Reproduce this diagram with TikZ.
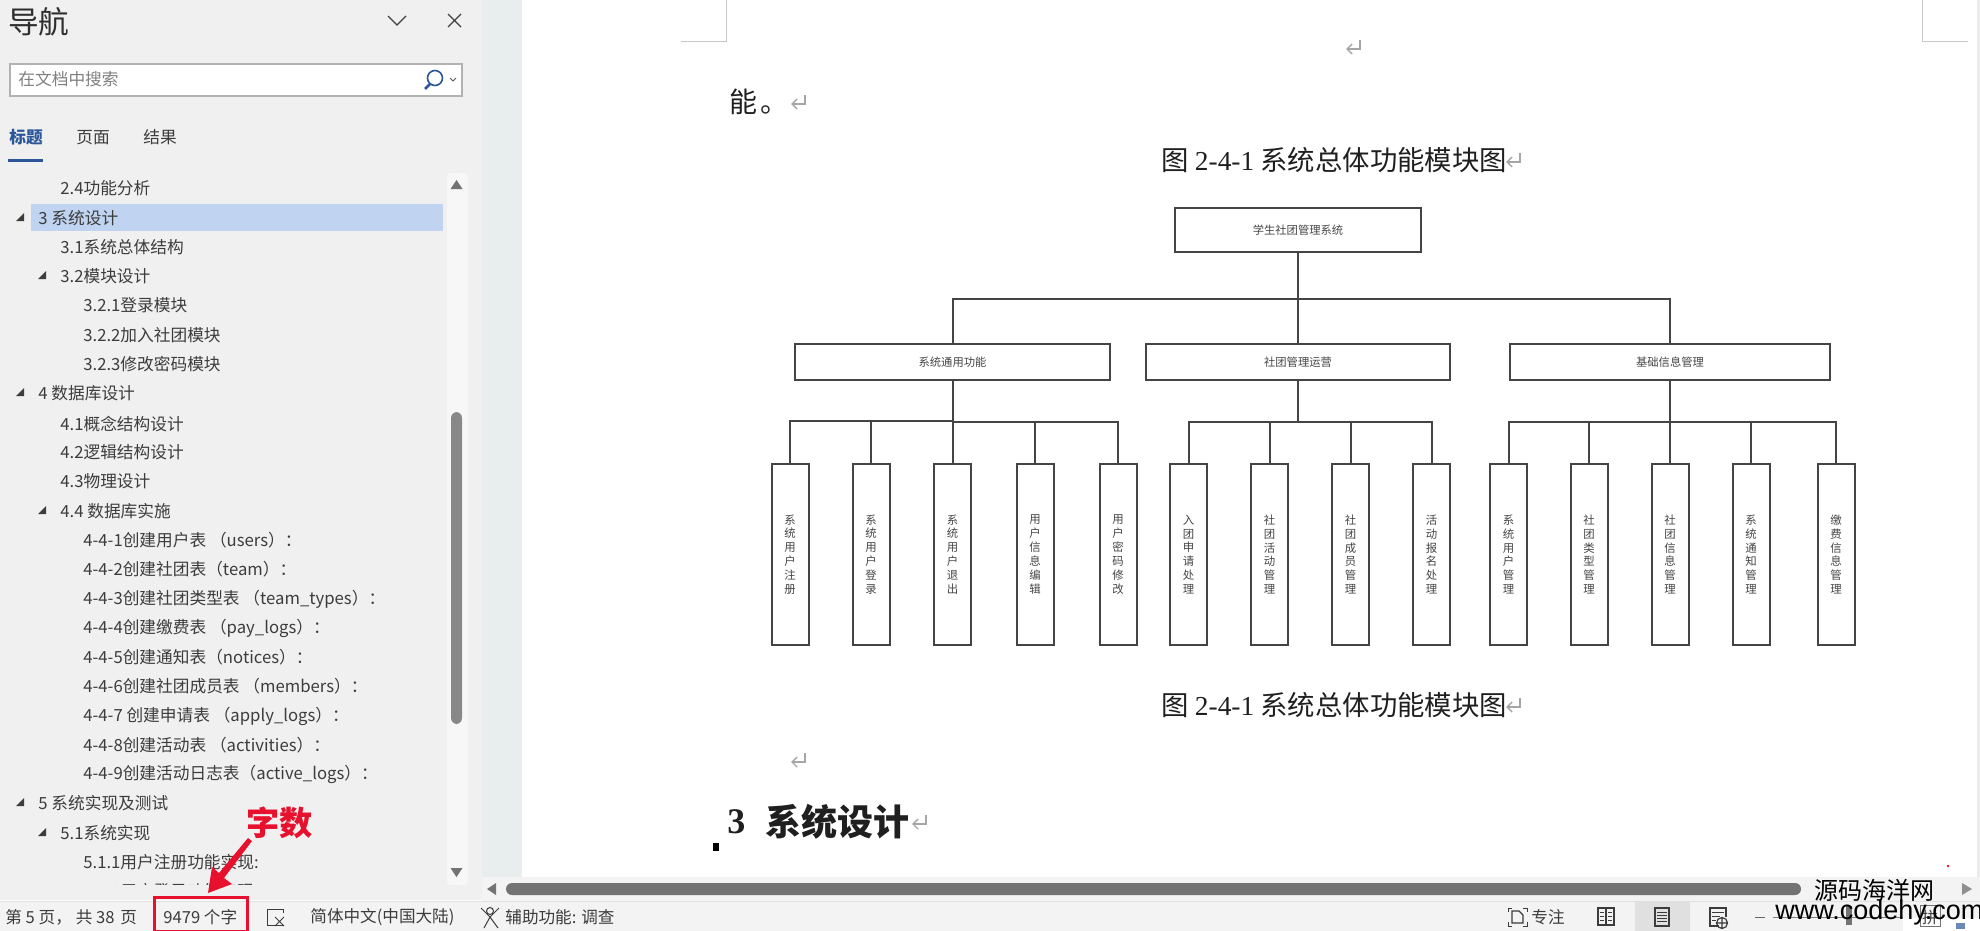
\documentclass[tikz,border=0pt]{standalone}
\usepackage{fontspec}
\setmainfont{Noto Sans CJK SC}
\newfontfamily\latinser{Liberation Serif}
\definecolor{panelbg}{HTML}{F0F0F0}
\definecolor{gutterbg}{HTML}{E8EEEE}
\definecolor{barbg}{HTML}{F3F3F3}
\definecolor{thumbc}{HTML}{737373}
\definecolor{hlrow}{HTML}{C0D3F0}
\definecolor{blueui}{HTML}{2B579A}
\definecolor{uitext}{HTML}{3C3C3C}
\definecolor{linec}{HTML}{444444}
\definecolor{leaftext}{HTML}{454545}
\definecolor{redmark}{HTML}{E8112D}
\definecolor{retc}{HTML}{A6A6A6}
\newcommand{\pxfont}[2]{\fontsize{#1}{#2}\selectfont}
\newcommand{\retmark}[2]{\draw[retc,line width=.7pt] ($(#1,#2)+(6,-7)$) -- ($(#1,#2)+(6,2)$) -- ($(#1,#2)+(-7,2)$); \draw[retc,line width=.7pt] ($(#1,#2)+(-2,-3)$) -- ($(#1,#2)+(-7,2)$) -- ($(#1,#2)+(-2,7)$);}
\newcommand{\tri}[2]{\fill[uitext] (#1,#2) ++(8,-5) -- ++(0,8) -- ++(-8,0) -- cycle;}
\usetikzlibrary{calc}
\tikzset{
  rowtxt/.style={anchor=west,inner sep=0pt,yshift=-.3pt,text=uitext,font=\pxfont{8.35}{10}},
  bartxt/.style={anchor=west,inner sep=0pt,text=uitext,font=\pxfont{8.3}{10}},
  doctxt/.style={anchor=west,inner sep=0pt,text=black!88,font=\pxfont{13.7}{16}},
  rootbox/.style={draw=linec,line width=1pt,fill=white,minimum width=123pt,minimum height=21.7pt,inner sep=0pt,text=leaftext,font=\pxfont{5.65}{7}},
  midbox/.style={draw=linec,line width=1pt,fill=white,minimum height=17.8pt,inner sep=0pt,text=leaftext,text depth=0pt,font=\pxfont{5.65}{7}},
  leafbox/.style={draw=linec,line width=1pt,fill=white,minimum width=18.5pt,minimum height=90.5pt,inner sep=0pt,text=leaftext,align=center,font=\pxfont{5.7}{6.95}},
  conn/.style={draw=linec,line width=1pt},
}
\begin{document}
\begin{tikzpicture}[x=0.5pt,y=-0.5pt]
\useasboundingbox (0,0) rectangle (1980,931);
% backgrounds
\fill[white] (0,0) rectangle (1980,931);
\fill[panelbg] (0,0) rectangle (482,900);
\fill[gutterbg] (482,0) rectangle (522,880);
\fill[black!8] (1977,0) rectangle (1980,880);
\fill[barbg] (482,877) rectangle (1980,901);
\fill[barbg] (0,901) rectangle (1980,931);
\draw[black!12,line width=.4pt] (0,901) -- (1980,901);
% page corner marks
\draw[black!22,line width=.5pt] (681,42) -- (726,42) -- (726,0);
\draw[black!22,line width=.5pt] (1968,42) -- (1922,42) -- (1922,0);
\retmark{1354}{47}
% doc text
\node[doctxt,font=\pxfont{14}{16}] (neng) at (729,102) {能\hspace{1.5pt}。};
\retmark{799}{102}
\node[doctxt] (capa) at (1161,160) {图 {\latinser 2-4-1} 系统总体功能模块图};
\retmark{1514}{160}
\node[doctxt] (capb) at (1161,705) {图 {\latinser 2-4-1} 系统总体功能模块图};
\retmark{1514}{705}
\retmark{799}{760}
\node[doctxt,font=\pxfont{18}{20}\bfseries] (hnum) at (727,822) {\latinser 3};
\node[doctxt,font=\pxfont{18}{20}\bfseries] (hsec) at (765,822) {系统设计};
\retmark{920}{822}
\fill[black] (713,843) rectangle (719,851);
% diagram
\node[rootbox] (root) at (1298,230) {学生社团管理系统};
\node[midbox,minimum width=157.5pt] (m1) at (952.5,362) {系统通用功能};
\node[midbox,minimum width=152pt] (m2) at (1298,362) {社团管理运营};
\node[midbox,minimum width=160pt] (m3) at (1670,362) {基础信息管理};
\coordinate (busa) at (1298,298.5);
\coordinate (busb) at (952.5,422);
\coordinate (busbu) at (952.5,421);
\coordinate (busc) at (1298,422);
\coordinate (busd) at (1670,422);
\foreach \nm/\cx/\txt in {
 la/790/系\\统\\用\\户\\注\\册, lb/871/系\\统\\用\\户\\登\\录, lc/952.5/系\\统\\用\\户\\退\\出,
 ld/1035/用\\户\\信\\息\\编\\辑, le/1118/用\\户\\密\\码\\修\\改,
 lf/1188.5/入\\团\\申\\请\\处\\理, lg/1269.5/社\\团\\活\\动\\管\\理, lh/1350.5/社\\团\\成\\员\\管\\理, li/1431.5/活\\动\\报\\名\\处\\理,
 lj/1508.5/系\\统\\用\\户\\管\\理, lk/1589/社\\团\\类\\型\\管\\理, ll/1670/社\\团\\信\\息\\管\\理, lm/1751/系\\统\\通\\知\\管\\理, ln/1836/缴\\费\\信\\息\\管\\理}
 {\node[leafbox] (\nm) at (\cx,554.5) {\txt};}
\draw[conn] (root) -- (m2);
\draw[conn] (m1.north) |- (busa);
\draw[conn] (m3.north) |- (busa);
\draw[conn] (m1.south) -- (lc.north);
\draw[conn] (m2.south) -- (busc);
\draw[conn] (m3.south) -- (ll.north);
\foreach \l in {la,lb} {\draw[conn] (\l.north) |- (busbu);}
\foreach \l in {le,ld} {\draw[conn] (\l.north) |- (busb);}
\foreach \l in {lf,lg,lh,li} {\draw[conn] (\l.north) |- (busc);}
\foreach \l in {lj,lk,lm,ln} {\draw[conn] (\l.north) |- (busd);}
% nav pane header
\node[anchor=west,inner sep=0pt,text=black!82,font=\pxfont{15.3}{18}] (navt) at (8,22) {导航};
\draw[black!75,line width=.6pt] (388,16) -- (397,25) -- (406,16);
\draw[black!75,line width=.6pt] (448,14) -- (461,27) (461,14) -- (448,27);
\node[draw=black!30,line width=.8pt,fill=white,minimum width=226pt,minimum height=16pt,inner sep=0pt,anchor=west] (sbox) at (9,80) {};
\node[rowtxt,text=black!50] (stxt) at (18,79) {在文档中搜索};
\draw[blueui,line width=.8pt] (435,78) circle (7.5);
\draw[blueui,line width=1.3pt] (430,84) -- (425,89);
\draw[black!65,line width=.5pt] (450,78) -- (453,81) -- (456,78);
\node[rowtxt,text=blueui,font=\pxfont{8.35}{10}\bfseries] (t1) at (9,137) {标题};
\node[rowtxt] (t2) at (76,137) {页面};
\node[rowtxt] (t3) at (143,137) {结果};
\fill[blueui] (8,159) rectangle (43,161.5);
% scrollbar of nav pane
\fill[black!3,rounded corners=2pt] (447,173) rectangle (468,885);
\fill[thumbc!85,rounded corners=3pt] (451,412) rectangle (462,724);
\fill[thumbc] (456.5,180) -- (462.5,189) -- (450.5,189) -- cycle;
\fill[thumbc] (456.5,877) -- (462.5,868) -- (450.5,868) -- cycle;
% rows
\fill[hlrow] (31,204) rectangle (443,231);
\tri{16}{218}\tri{38}{276}\tri{16}{393}\tri{38}{511}\tri{16}{803}\tri{38}{833}
\node[rowtxt] (r01) at (60,188) {2.4功能分析};
\node[rowtxt] (r02) at (38,218) {3 系统设计};
\node[rowtxt] (r03) at (60,247) {3.1系统总体结构};
\node[rowtxt] (r04) at (60,276) {3.2模块设计};
\node[rowtxt] (r05) at (83,305) {3.2.1登录模块};
\node[rowtxt] (r06) at (83,335) {3.2.2加入社团模块};
\node[rowtxt] (r07) at (83,364) {3.2.3修改密码模块};
\node[rowtxt] (r08) at (38,393) {4 数据库设计};
\node[rowtxt] (r09) at (60,423) {4.1概念结构设计};
\node[rowtxt] (r10) at (60,452) {4.2逻辑结构设计};
\node[rowtxt] (r11) at (60,481) {4.3物理设计};
\node[rowtxt] (r12) at (60,511) {4.4 数据库实施};
\node[rowtxt] (r13) at (83,540) {4-4-1创建用户表 （users）：};
\node[rowtxt] (r14) at (83,569) {4-4-2创建社团表（team）：};
\node[rowtxt] (r15) at (83,599) {4-4-3创建社团类型表 （team\_types）：};
\node[rowtxt] (r16) at (83,628) {4-4-4创建缴费表 （pay\_logs）：};
\node[rowtxt] (r17) at (83,657) {4-4-5创建通知表（notices）：};
\node[rowtxt] (r18) at (83,686) {4-4-6创建社团成员表 （members）：};
\node[rowtxt] (r19) at (83,716) {4-4-7 创建申请表 （apply\_logs）：};
\node[rowtxt] (r20) at (83,745) {4-4-8创建活动表 （activities）：};
\node[rowtxt] (r21) at (83,774) {4-4-9创建活动日志表（active\_logs）：};
\node[rowtxt] (r22) at (38,803) {5 系统实现及测试};
\node[rowtxt] (r23) at (60,833) {5.1系统实现};
\node[rowtxt] (r24) at (83,862) {5.1.1用户注册功能实现:};
\begin{scope}
\clip (0,870) rectangle (440,884);
\node[rowtxt] (r25) at (83,891) {5.1.2用户登录功能实现};
\end{scope}
% horizontal scrollbar
\fill[thumbc,rounded corners=3pt] (506,883) rectangle (1801,895);
\fill[thumbc] (487,889) -- (496,883) -- (496,895) -- cycle;
\fill[thumbc!80] (1972,889) -- (1962,883) -- (1962,895) -- cycle;
% status bar
\node[bartxt] (s1) at (5,917) {第 5 页，\hspace{2pt}共 38\hspace{1pt} 页};
\node[bartxt] (s2) at (163,917) {9479 个字};
\draw[redmark,line width=1.5pt] (154,897) rectangle (247,931);
\draw[uitext,line width=.5pt] (283,925) -- (267,925) -- (267,909) -- (283,909) (283,909) -- (283,913);
\draw[uitext,line width=.5pt] (275,917) -- (284,926) (284,917) -- (275,926);
\node[bartxt] (s3) at (310,917) {简体中文(中国大陆)};
\draw[uitext,line width=.5pt] (490,911) circle (3.5);
\draw[uitext,line width=.5pt] (481,908) -- (490,917) -- (499,908) (490,917) -- (484,928) (490,917) -- (498,928);
\node[bartxt] (s4) at (505,917) {辅助功能: 调查};
% right status
\draw[uitext,line width=.5pt] (1512,908) -- (1508,908) -- (1508,912) (1508,922) -- (1508,926) -- (1512,926) (1523,926) -- (1527,926) -- (1527,922) (1527,912) -- (1527,908) -- (1523,908);
\draw[uitext,line width=.6pt] (1512,911) -- (1519,911) -- (1523,915) -- (1523,923) -- (1512,923) -- cycle;
\node[bartxt] (s5) at (1531,917) {专注};
\draw[uitext,line width=.7pt] (1598,908) rectangle (1614,925) (1606,908) -- (1606,925);
\foreach \yy in {912,916,920} {\draw[uitext,line width=.5pt] (1600,\yy) -- (1604,\yy) (1608,\yy) -- (1612,\yy);}
\fill[black!12] (1635,902) rectangle (1690,931);
\draw[uitext,line width=.7pt] (1655,908) rectangle (1669,926);
\foreach \yy in {912,915,918,921} {\draw[uitext,line width=.5pt] (1657,\yy) -- (1667,\yy);}
\draw[uitext,line width=.6pt] (1719,926) -- (1710,926) -- (1710,908) -- (1726,908) -- (1726,917);
\draw[uitext,line width=.5pt] (1712,912) -- (1724,912) (1712,916) -- (1720,916) (1712,920) -- (1716,920);
\draw[uitext,line width=.6pt] (1722,923) circle (5.5) (1716.5,923) -- (1727.5,923) (1722,917.5) -- (1722,928.5);
\draw[black!60,line width=.5pt] (1755,917) -- (1765,917);
\draw[black!50,line width=.5pt] (1773,917) -- (1903,917);
\fill[thumbc] (1846,906) rectangle (1852,925);
\fill[white] (1903,918) rectangle (1980,931);
\draw[black!55,line width=.5pt] (1920,905) rectangle (1940,926);
\node[inner sep=0pt,text=uitext,font=\pxfont{8}{10}] (ime) at (1930,917) {拼};
\fill[blueui!70] (1956,923) rectangle (1965,929);
\fill[redmark] (1948,866) circle (1.4);
% red annotation
\node[anchor=west,inner sep=0pt,text=redmark,font=\pxfont{16.6}{18}\bfseries] (zishu) at (246,823) {字数};
\coordinate (arrowtail) at (248,838);
\fill[redmark] (arrowtail) -- (252,841) -- (224,878) -- (232,884) -- (208,893) -- (212,867) -- (219,873) -- cycle;
% watermark
\node[anchor=west,inner sep=0pt,text=black,font=\pxfont{12}{14}] (wm1) at (1814,890) {源码海洋网};
\node[anchor=west,inner sep=0pt,text=black,font={\fontspec{Liberation Sans}\pxfont{13.5}{16}}] (wm2) at (1775,913) {www.codehy.com};
\end{tikzpicture}
\end{document}
